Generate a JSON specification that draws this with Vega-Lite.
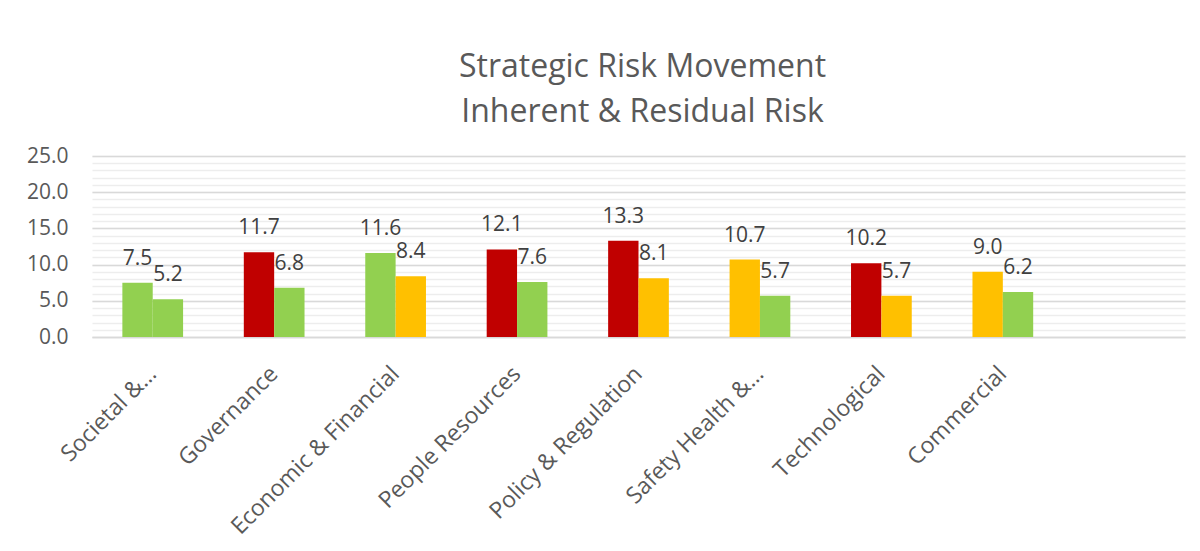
{
  "$schema": "https://vega.github.io/schema/vega-lite/v6.json",
  "autosize": "none",
  "width": 1093,
  "height": 181,
  "padding": {"left": 92, "top": 156, "right": 15, "bottom": 214},
  "background": "white",
  "title": {
    "text": ["Strategic Risk Movement", "Inherent & Residual Risk"],
    "font": "Open Sans",
    "fontSize": 32,
    "fontWeight": "normal",
    "color": "#595959",
    "lineHeight": 45,
    "anchor": "middle",
    "frame": "group",
    "offset": 16,
    "dx": 4
  },
  "data": {
    "values": [
      {"category": "Societal &…", "series": "Inherent", "value": 7.5, "rating": "Green"},
      {"category": "Societal &…", "series": "Residual", "value": 5.2, "rating": "Green"},
      {"category": "Governance", "series": "Inherent", "value": 11.7, "rating": "Red"},
      {"category": "Governance", "series": "Residual", "value": 6.8, "rating": "Green"},
      {"category": "Economic & Financial", "series": "Inherent", "value": 11.6, "rating": "Green"},
      {"category": "Economic & Financial", "series": "Residual", "value": 8.4, "rating": "Amber"},
      {"category": "People Resources", "series": "Inherent", "value": 12.1, "rating": "Red"},
      {"category": "People Resources", "series": "Residual", "value": 7.6, "rating": "Green"},
      {"category": "Policy & Regulation", "series": "Inherent", "value": 13.3, "rating": "Red"},
      {"category": "Policy & Regulation", "series": "Residual", "value": 8.1, "rating": "Amber"},
      {"category": "Safety Health &…", "series": "Inherent", "value": 10.7, "rating": "Amber"},
      {"category": "Safety Health &…", "series": "Residual", "value": 5.7, "rating": "Green"},
      {"category": "Technological", "series": "Inherent", "value": 10.2, "rating": "Red"},
      {"category": "Technological", "series": "Residual", "value": 5.7, "rating": "Amber"},
      {"category": "Commercial", "series": "Inherent", "value": 9.0, "rating": "Amber"},
      {"category": "Commercial", "series": "Residual", "value": 6.2, "rating": "Green"}
    ]
  },
  "encoding": {
    "x": {
      "field": "category",
      "type": "nominal",
      "scale": {
        "domain": ["Societal &…", "Governance", "Economic & Financial", "People Resources", "Policy & Regulation", "Safety Health &…", "Technological", "Commercial", " "],
        "paddingInner": 0.5,
        "paddingOuter": 0.25
      },
      "axis": {
        "title": null,
        "labelAngle": -45,
        "labelAlign": "right",
        "labelBaseline": "middle",
        "labelFont": "Open Sans",
        "labelFontSize": 23,
        "labelColor": "#595959",
        "labelPadding": 33,
        "labelLimit": 0,
        "labelOverlap": false,
        "ticks": false,
        "domainColor": "#D9D9D9",
        "domainWidth": 1.5,
        "grid": false
      }
    },
    "xOffset": {
      "field": "series",
      "type": "nominal",
      "scale": {"domain": ["Inherent", "Residual"], "paddingInner": 0, "paddingOuter": 0}
    },
    "y": {
      "field": "value",
      "type": "quantitative",
      "scale": {"domain": [0, 25], "nice": false}
    }
  },
  "layer": [
    {
      "mark": {"type": "bar"},
      "encoding": {
        "y": {
          "field": "value",
          "type": "quantitative",
          "scale": {"domain": [0, 25], "nice": false},
          "axis": {
            "orient": "left",
            "title": null,
            "values": [0,1,2,3,4,5,6,7,8,9,10,11,12,13,14,15,16,17,18,19,20,21,22,23,24,25],
            "labels": false,
            "ticks": false,
            "domain": false,
            "grid": true,
            "gridColor": "#EDEDED",
            "gridWidth": 1.3,
            "zindex": 0
          }
        },
        "color": {
          "field": "rating",
          "type": "nominal",
          "scale": {"domain": ["Red", "Amber", "Green"], "range": ["#C00000", "#FFC000", "#92D050"]},
          "legend": null
        }
      }
    },
    {
      "mark": {"type": "text", "font": "Open Sans", "fontSize": 21, "color": "#404040", "baseline": "alphabetic", "dy": -18},
      "encoding": {
        "y": {
          "field": "value",
          "type": "quantitative",
          "scale": {"domain": [0, 25], "nice": false},
          "axis": {
            "orient": "left",
            "title": null,
            "values": [0, 5, 10, 15, 20, 25],
            "format": ".1f",
            "labelFont": "Open Sans",
            "labelFontSize": 21,
            "labelColor": "#595959",
            "labelPadding": 24,
            "ticks": false,
            "domain": false,
            "grid": true,
            "gridColor": "#D9D9D9",
            "gridWidth": 1.5,
            "zindex": 0
          }
        },
        "text": {"field": "value", "type": "quantitative", "format": ".1f"}
      }
    }
  ],
  "resolve": {"axis": {"y": "independent"}},
  "config": {"view": {"stroke": null}}
}
